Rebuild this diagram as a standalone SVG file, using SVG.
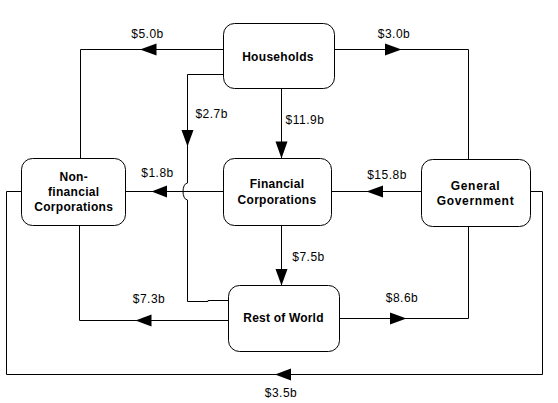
<svg xmlns="http://www.w3.org/2000/svg" width="558" height="403" viewBox="0 0 558 403">
<style>
.box{fill:#fff;stroke:#000;stroke-width:1}
.ln{fill:none;stroke:#000;stroke-width:1}
.ah{fill:#000;stroke:none}
.nt{font-family:"Liberation Sans",Arial,sans-serif;font-size:12px;font-weight:bold;fill:#000;text-anchor:middle;letter-spacing:0.3px}
.vl{font-family:"Liberation Sans",Arial,sans-serif;font-size:12px;fill:#000;text-anchor:middle;letter-spacing:0.5px}
</style>
<rect width="558" height="403" fill="#fff"/>
<g id="connectors">
<path class="ln" d="M223.5,49.5 H80.5 V158.5"/>
<polygon class="ah" points="140,49.5 156.5,43.5 156.5,55.5"/>
<path class="ln" d="M334.5,49.5 H468.5 V159.5"/>
<polygon class="ah" points="401.5,49.5 385,43.5 385,55.5"/>
<path class="ln" d="M223.5,74.5 H187.5 V183 C181.5,183.5 181.5,199.5 187.5,200 V301.5 H208 V300.5 H228.5"/>
<polygon class="ah" points="187.5,146.5 181.5,130 193.5,130"/>
<path class="ln" d="M281.5,88.5 V158.5"/>
<polygon class="ah" points="281.5,158.5 275.5,141.5 287.5,141.5"/>
<path class="ln" d="M223.5,191.5 H125.5"/>
<polygon class="ah" points="151.5,191.5 167,185.5 167,197.5"/>
<path class="ln" d="M421.5,191.5 H331.5"/>
<polygon class="ah" points="366.5,191.5 383,185.5 383,197.5"/>
<path class="ln" d="M281.5,225.5 V285.5"/>
<polygon class="ah" points="281.5,285.5 275.5,269 287.5,269"/>
<path class="ln" d="M228.5,320.5 H79.5 V225.5"/>
<polygon class="ah" points="135.5,320.5 151.5,314.5 151.5,326.5"/>
<path class="ln" d="M339.5,318.5 H468.5 V226.5"/>
<polygon class="ah" points="406.5,318.5 390,312.5 390,324.5"/>
<path class="ln" d="M530.5,191.5 H542.5 V374.5 H6.5 V191.5 H21.5"/>
<polygon class="ah" points="275,374.5 291,368.5 291,380.5"/>
<text class="vl" x="147.5" y="38.3">$5.0b</text>
<text class="vl" x="394" y="38.3">$3.0b</text>
<text class="vl" x="211.7" y="118.3">$2.7b</text>
<text class="vl" x="305" y="124.3">$11.9b</text>
<text class="vl" x="157.5" y="176.7">$1.8b</text>
<text class="vl" x="387" y="179">$15.8b</text>
<text class="vl" x="308.5" y="260.7">$7.5b</text>
<text class="vl" x="149" y="303.3">$7.3b</text>
<text class="vl" x="402" y="302.3">$8.6b</text>
<text class="vl" x="281" y="396.7">$3.5b</text>
</g>
<g id="households">
<rect class="box" x="223.5" y="23.5" width="111" height="65" rx="11"/>
<text class="nt" x="278" y="61">Households</text>
</g>
<g id="nonfinancial">
<rect class="box" x="21.5" y="158.5" width="104" height="67" rx="11"/>
<text class="nt" x="73.7" y="181">Non-</text>
<text class="nt" x="73.7" y="196">financial</text>
<text class="nt" x="73.7" y="211">Corporations</text>
</g>
<g id="financial">
<rect class="box" x="223.5" y="158.5" width="108" height="67" rx="11"/>
<text class="nt" x="277" y="188.3">Financial</text>
<text class="nt" x="277" y="204.3">Corporations</text>
</g>
<g id="government">
<rect class="box" x="421.5" y="159.5" width="109" height="67" rx="11"/>
<text class="nt" x="475.5" y="190" style="letter-spacing:0.7px">General</text>
<text class="nt" x="475.5" y="204.5" style="letter-spacing:0.7px">Government</text>
</g>
<g id="restofworld">
<rect class="box" x="228.5" y="285.5" width="111" height="66" rx="11"/>
<text class="nt" x="283.5" y="321.7" style="letter-spacing:0.2px">Rest of World</text>
</g>
</svg>
